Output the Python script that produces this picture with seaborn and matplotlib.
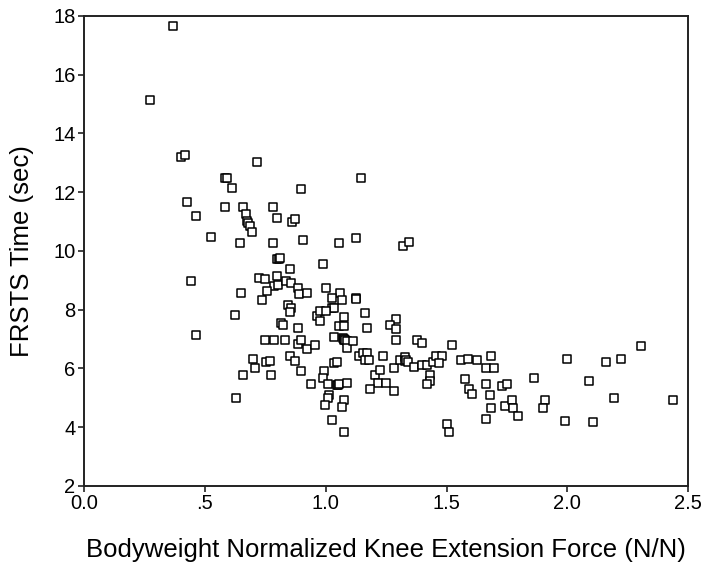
# Scatter: knee extension force vs FRSTS time

import pandas as pd
import matplotlib
matplotlib.use("Agg")
import matplotlib.pyplot as plt
import seaborn as sns

knee_force = [
    0.273, 0.370, 0.400, 0.417, 0.715, 0.583, 0.590, 0.611, 0.428, 0.585,
    0.657, 0.781, 0.462, 0.671, 0.676, 0.680, 0.686, 0.695, 0.798, 0.527,
    0.644, 0.781, 0.800, 0.806, 0.810, 0.443, 0.723, 0.749, 0.800, 0.788,
    0.802, 0.756, 0.651, 0.736, 0.624, 0.814, 0.462, 0.748, 0.786, 0.701,
    0.755, 0.769, 0.709, 0.657, 0.774, 0.630, 1.145, 0.898, 0.860, 0.872,
    0.905, 1.054, 1.126, 1.320, 1.346, 0.853, 0.988, 0.836, 0.858, 0.886,
    0.891, 0.924, 1.002, 1.061, 1.028, 1.068, 1.125, 1.127, 0.846, 0.855,
    0.853, 1.026, 1.035, 0.963, 0.977, 1.002, 0.976, 1.075, 1.164, 1.289,
    1.268, 0.825, 0.886, 1.054, 1.075, 1.171, 1.289, 0.832, 0.886, 0.898,
    0.924, 0.956, 1.034, 1.071, 1.074, 1.078, 1.080, 1.089, 1.089, 1.113,
    1.289, 1.378, 1.399, 1.522, 0.853, 0.872, 0.898, 0.938, 0.995, 0.988,
    1.008, 1.036, 1.047, 1.047, 1.051, 1.055, 1.087, 1.015, 1.010, 0.996,
    1.075, 1.068, 1.028, 1.075, 1.139, 1.156, 1.173, 1.162, 1.181, 1.238,
    1.204, 1.224, 1.217, 1.250, 1.184, 1.282, 1.282, 1.308, 1.327, 1.329,
    1.333, 1.342, 1.366, 1.398, 1.418, 1.445, 1.457, 1.483, 1.471, 1.432,
    1.432, 1.418, 1.562, 1.588, 1.576, 1.595, 1.502, 1.509, 1.625, 1.685,
    1.664, 1.697, 1.607, 1.664, 1.679, 1.729, 1.751, 1.686, 1.664, 1.743,
    1.770, 1.777, 1.796, 1.863, 1.908, 1.901, 1.998, 1.991, 2.090, 2.108,
    2.161, 2.220, 2.192, 2.304, 2.435,
]

frsts_time = [
    15.12, 17.65, 13.18, 13.28, 13.02, 12.47, 12.47, 12.14, 11.66, 11.51,
    11.51, 11.51, 11.18, 11.24, 11.02, 10.94, 10.86, 10.64, 11.13, 10.47,
    10.27, 10.27, 9.74, 9.74, 9.76, 8.96, 9.07, 9.03, 9.14, 8.80,
    8.85, 8.64, 8.57, 8.32, 7.83, 7.56, 7.13, 6.97, 6.97, 6.32,
    6.22, 6.26, 6.00, 5.79, 5.79, 4.98, 12.47, 12.10, 10.98, 11.07,
    10.38, 10.27, 10.43, 10.15, 10.31, 9.40, 9.56, 8.97, 8.91, 8.75,
    8.53, 8.58, 8.75, 8.58, 8.38, 8.33, 8.40, 8.35, 8.16, 8.05,
    7.91, 8.07, 8.07, 7.80, 7.94, 7.94, 7.60, 7.74, 7.89, 7.69,
    7.47, 7.47, 7.36, 7.43, 7.43, 7.36, 7.33, 6.97, 6.82, 6.97,
    6.65, 6.81, 7.08, 7.04, 6.97, 6.99, 6.95, 6.92, 6.71, 6.92,
    6.97, 6.97, 6.87, 6.81, 6.43, 6.26, 5.90, 5.47, 5.90, 5.68,
    5.47, 6.17, 6.23, 5.42, 5.44, 5.47, 5.52, 5.09, 4.98, 4.76,
    4.92, 4.70, 4.23, 3.84, 6.43, 6.54, 6.54, 6.27, 6.27, 6.43,
    5.79, 5.96, 5.52, 5.52, 5.30, 5.24, 6.00, 6.27, 6.39, 6.26,
    6.28, 6.22, 6.06, 6.12, 6.12, 6.23, 6.43, 6.43, 6.17, 5.79,
    5.57, 5.47, 6.27, 6.32, 5.63, 5.30, 4.11, 3.84, 6.27, 6.43,
    6.00, 6.00, 5.14, 5.47, 5.08, 5.41, 5.47, 4.66, 4.27, 4.72,
    4.92, 4.66, 4.39, 5.68, 4.92, 4.66, 6.32, 4.22, 5.57, 4.16,
    6.22, 6.32, 4.98, 6.75, 4.92,
]

x_ticks = [0.0, 0.5, 1.0, 1.5, 2.0, 2.5]
x_tick_labels = ["0.0", ".5", "1.0", "1.5", "2.0", "2.5"]
y_ticks = [2, 4, 6, 8, 10, 12, 14, 16, 18]

df = pd.DataFrame({"force": knee_force, "time": frsts_time})

sns.set_style("ticks")
plt.rcParams["font.family"] = ["Liberation Sans", "DejaVu Sans"]

fig = plt.figure(figsize=(7.11, 5.67), dpi=100)
ax = fig.add_axes([0.118, 0.143, 0.850, 0.829])

sns.scatterplot(data=df, x="force", y="time", marker="s", s=26,
                facecolor="white", edgecolor="black", linewidth=1.1, ax=ax)

ax.set_xlim(0, 2.5)
ax.set_ylim(2, 18)
ax.set_xticks(x_ticks)
ax.set_xticklabels(x_tick_labels)
ax.set_yticks(y_ticks)
ax.tick_params(labelsize=14.5, length=4, width=1.2, pad=2, direction="out",
               color="#222222", labelcolor="black")
for spine in ax.spines.values():
    spine.set_visible(True)
    spine.set_linewidth(1.4)
    spine.set_color("#222222")

ax.set_xlabel("Bodyweight Normalized Knee Extension Force (N/N)", fontsize=18.5,
              color="black", labelpad=18)
ax.set_ylabel("FRSTS Time (sec)", fontsize=18.5, color="black", labelpad=14)

fig.savefig("out.png", dpi=100)
